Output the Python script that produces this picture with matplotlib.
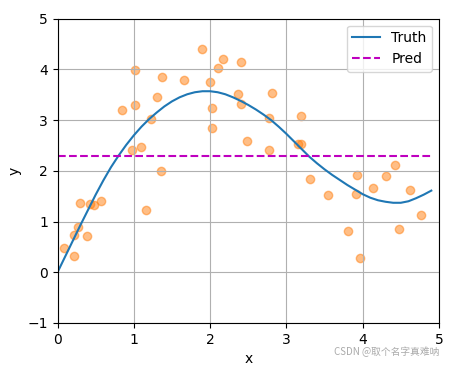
import matplotlib
matplotlib.use("Agg")
import matplotlib.pyplot as plt

# noisy samples
xs = [0.08, 0.22, 0.22, 0.27, 0.30, 0.38, 0.43, 0.48, 0.57, 0.84,
      0.97, 1.02, 1.02, 1.09, 1.16, 1.23, 1.31, 1.35, 1.37, 1.66,
      1.90, 2.00, 2.03, 2.03, 2.11, 2.17, 2.37, 2.40, 2.41, 2.48,
      2.77, 2.77, 2.81, 3.15, 3.19, 3.19, 3.31, 3.55, 3.81, 3.91,
      3.93, 3.96, 4.13, 4.31, 4.42, 4.47, 4.62, 4.77]
ys = [0.48, 0.32, 0.735, 0.89, 1.36, 0.71, 1.35, 1.33, 1.41, 3.195,
      2.41, 3.30, 3.99, 2.465, 1.23, 3.02, 3.45, 1.99, 3.85, 3.79,
      4.40, 3.75, 3.24, 2.84, 4.03, 4.21, 3.51, 3.32, 4.15, 2.58,
      3.04, 2.41, 3.53, 2.52, 2.52, 3.08, 1.83, 1.52, 0.81, 1.54,
      1.91, 0.28, 1.66, 1.89, 2.12, 0.85, 1.62, 1.12]

# truth curve, every 0.1
truth_x = [0.0, 0.1, 0.2, 0.3, 0.4, 0.5, 0.6, 0.7, 0.8, 0.9,
           1.0, 1.1, 1.2, 1.3, 1.4, 1.5, 1.6, 1.7, 1.8, 1.9,
           2.0, 2.1, 2.2, 2.3, 2.4, 2.5, 2.6, 2.7, 2.8, 2.9,
           3.0, 3.1, 3.2, 3.3, 3.4, 3.5, 3.6, 3.7, 3.8, 3.9,
           4.0, 4.1, 4.2, 4.3, 4.4, 4.5, 4.6, 4.7, 4.8, 4.9]
truth_y = [0.0, 0.31, 0.62, 0.93, 1.23, 1.53, 1.81, 2.07, 2.30, 2.51,
           2.70, 2.87, 3.02, 3.15, 3.27, 3.37, 3.45, 3.51, 3.55, 3.57,
           3.57, 3.55, 3.51, 3.45, 3.38, 3.30, 3.21, 3.11, 3.00, 2.87,
           2.73, 2.58, 2.43, 2.28, 2.15, 2.03, 1.92, 1.82, 1.72, 1.63,
           1.54, 1.47, 1.42, 1.39, 1.37, 1.37, 1.40, 1.46, 1.53, 1.61]

pred_x = [0.0, 4.9]
pred_y = [2.3, 2.3]

fig = plt.figure(figsize=(4.64, 3.67), dpi=100)
ax = fig.add_axes([0.124, 0.120, 0.822, 0.829])

ax.scatter(xs, ys, color="C1", alpha=0.5)
ax.plot(truth_x, truth_y, color="C0", label="Truth")
ax.plot(pred_x, pred_y, "m--", label="Pred")

ax.set_xlim(0, 5)
ax.set_ylim(-1, 5)
ax.set_xlabel("x")
ax.set_ylabel("y")
ax.grid(True)
ax.legend(loc="upper right")

fig.text(0.946, 0.040, "CSDN @取个名字真难呐", ha="right", va="center",
         fontsize=7, color="#aaaaaa",
         family=["Noto Sans CJK SC", "DejaVu Sans"])

fig.savefig("out.png", dpi=100)
